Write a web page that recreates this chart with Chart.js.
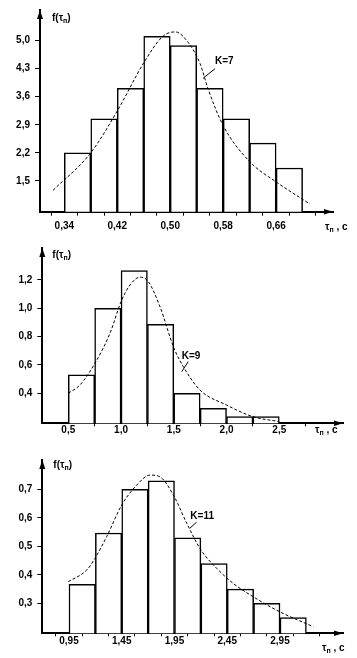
<!DOCTYPE html>
<html><head><meta charset="utf-8">
<script src="https://cdn.jsdelivr.net/npm/chart.js@4"></script>
<style>
html,body{margin:0;padding:0;background:#fff;width:357px;height:658px;overflow:hidden}
canvas{position:absolute;left:0}
</style></head><body>
<canvas id="c1" width="357" height="235" style="top:0px"></canvas>
<canvas id="c2" width="357" height="215" style="top:235px"></canvas>
<canvas id="c3" width="357" height="208" style="top:450px"></canvas>
<script>
// ---- Chart 1 (K=7)
const edges1 = [0.34,0.38,0.42,0.46,0.50,0.54,0.58,0.62,0.66,0.70];
const values1 = [2.2,3.05,3.81,5.11,4.88,3.81,3.05,2.44,1.82];
const curveX1 = [0.323,0.38,0.4216,0.4608,0.4896,0.508,0.527,0.545,0.5575,0.58,0.62,0.661,0.711];
const curveY1 = [1.26,2.2,3.29,4.47,5.12,5.22,4.96,4.43,3.78,2.88,1.98,1.46,0.92];
const xTicks1 = [0.34,0.38,0.42,0.46,0.50,0.54,0.58,0.62,0.66,0.70];
const xTickLabels1 = ['0,34','','0,42','','0,50','','0,58','','0,66',''];
const yTicks1 = [1.5,2.2,2.9,3.6,4.3,5.0];
const yTickLabels1 = ['1,5','2,2','2,9','3,6','4,3','5,0'];

// ---- Chart 2 (K=9)
const edges2 = [0.5,0.75,1.0,1.25,1.5,1.75,2.0,2.25,2.5];
const values2 = [0.53,1.0,1.266,0.887,0.4,0.294,0.235,0.235];
const curveX2 = [0.5,0.611,0.753,0.895,1.0,1.085,1.18,1.258,1.369,1.502,1.59,1.748,2.0,2.25,2.5];
const curveY2 = [0.4,0.459,0.612,0.823,1.046,1.164,1.219,1.188,1.011,0.718,0.588,0.423,0.317,0.235,0.2];
const xTicks2 = [0.5,1.0,1.5,2.0,2.5,3.0];
const xTickLabels2 = ['0,5','1,0','1,5','2,0','2,5',''];
const yTicks2 = [0.4,0.6,0.8,1.0,1.2];
const yTickLabels2 = ['0,4','0,6','0,8','1,0','1,2'];

// ---- Chart 3 (K=11)
const edges3 = [0.95,1.20,1.45,1.70,1.95,2.20,2.45,2.70,2.95,3.20];
const values3 = [0.367,0.547,0.70,0.73,0.53,0.44,0.35,0.30,0.25];
const curveX3 = [0.943,1.118,1.196,1.307,1.45,1.592,1.718,1.812,1.948,2.066,2.201,2.35,2.507,2.697,2.95,3.266];
const curveY3 = [0.376,0.417,0.458,0.534,0.645,0.715,0.75,0.744,0.674,0.581,0.487,0.423,0.37,0.323,0.27,0.218];
const xTicks3 = [0.95,1.20,1.45,1.70,1.95,2.20,2.45,2.70,2.95,3.20];
const xTickLabels3 = ['0,95','','1,45','','1,95','','2,45','','2,95',''];
const yTicks3 = [0.3,0.4,0.5,0.6,0.7];
const yTickLabels3 = ['0,3','0,4','0,5','0,6','0,7'];

const FONT = '"Liberation Sans", Arial, sans-serif';

function drawSub(ctx, parts, x, y) {
  let cx = x;
  for (const p of parts) {
    ctx.font = (p.sub ? 'bold 7px ' : 'bold 10px ') + FONT;
    ctx.fillText(p.t, cx, y + (p.sub ? 3 : 0));
    cx += ctx.measureText(p.t).width;
  }
}

const deco = {
  id: 'deco',
  afterDraw(chart, args, o) {
    const ctx = chart.ctx, a = chart.chartArea;
    const xs = chart.scales.x, ys = chart.scales.y;
    ctx.save();
    ctx.fillStyle = '#000'; ctx.strokeStyle = '#000';
    // arrows
    ctx.beginPath();
    ctx.moveTo(a.left, a.top); ctx.lineTo(a.left - 3, a.top + 9); ctx.lineTo(a.left + 3, a.top + 9); ctx.closePath(); ctx.fill();
    ctx.beginPath();
    ctx.moveTo(a.right, a.bottom); ctx.lineTo(a.right - 9, a.bottom - 2.8); ctx.lineTo(a.right - 9, a.bottom + 2.8); ctx.closePath(); ctx.fill();
    ctx.textBaseline = 'middle'; ctx.textAlign = 'left';
    // y title
    drawSub(ctx, [{t:'f(τ'},{t:'п',sub:true},{t:')'}], a.left + o.yTitleDx, a.top + o.yTitleDy);
    // x title
    drawSub(ctx, [{t:'τ'},{t:'п',sub:true},{t:' , с'}], o.xTitleX, a.bottom + o.xTitleDy);
    // K label with leader
    const k = o.k;
    ctx.lineWidth = 1; ctx.setLineDash([]);
    ctx.beginPath();
    ctx.moveTo(xs.getPixelForValue(k.lx1), ys.getPixelForValue(k.ly1));
    ctx.lineTo(xs.getPixelForValue(k.lx2), ys.getPixelForValue(k.ly2));
    ctx.stroke();
    ctx.font = 'bold 10px ' + FONT;
    ctx.fillText(k.text, xs.getPixelForValue(k.x), ys.getPixelForValue(k.y));
    ctx.restore();
  }
};

function make(id, g) {
  const centers = [];
  for (let i = 0; i < g.values.length; i++) centers.push((g.edges[i] + g.edges[i+1]) / 2);
  const barData = g.values.map((v, i) => ({x: centers[i], y: v}));
  const lineData = g.cx.map((v, i) => ({x: v, y: g.cy[i]}));
  return new Chart(document.getElementById(id), {
    type: 'bar',
    data: {
      datasets: [
        { type: 'line', data: lineData, borderColor: '#000', borderWidth: 1, borderDash: [3, 2],
          pointRadius: 0, cubicInterpolationMode: 'monotone', fill: false, order: 0 },
        { type: 'bar', data: barData, backgroundColor: '#fff', borderColor: '#000', borderWidth: 1.5,
          barPercentage: 1, categoryPercentage: 1, order: 1 }
      ]
    },
    options: {
      responsive: false, animation: false, devicePixelRatio: 1,
      layout: { padding: { top: g.padTop, right: g.padRight, left: 0, bottom: 0 } },
      plugins: { legend: { display: false }, tooltip: { enabled: false }, deco: g.deco },
      scales: {
        x: {
          type: 'linear', min: g.xmin, max: g.xmax, offset: false,
          afterFit: s => { s.height = g.xh; },
          afterBuildTicks: s => { s.ticks = g.xTicks.map(v => ({value: v})); },
          ticks: { autoSkip: false, maxRotation: 0, padding: g.xPad, color: '#000',
                   font: { family: FONT, size: 10, weight: 'bold', lineHeight: 1 },
                   callback: (v, i) => g.xLabels[i] },
          grid: { display: true, drawOnChartArea: false, drawTicks: true, tickLength: g.xTickLen, color: '#000', lineWidth: 1 },
          border: { display: true, color: '#000', width: 2 }
        },
        y: {
          type: 'linear', min: g.ymin, max: g.ymax,
          afterFit: s => { s.width = g.yw; },
          afterBuildTicks: s => { s.ticks = g.yTicks.map(v => ({value: v})); },
          ticks: { autoSkip: false, padding: 5, color: '#000',
                   font: { family: FONT, size: 10, weight: 'bold', lineHeight: 1 },
                   callback: (v, i) => g.yLabels[i] },
          grid: { display: true, drawOnChartArea: false, drawTicks: true, tickLength: 5, color: '#000', lineWidth: 1 },
          border: { display: true, color: '#000', width: 2 }
        }
      }
    },
    plugins: [deco]
  });
}

make('c1', { edges: edges1, values: values1, cx: curveX1, cy: curveY1,
  xTicks: xTicks1, xLabels: xTickLabels1, yTicks: yTicks1, yLabels: yTickLabels1,
  xmin: 0.3033, xmax: 0.7459, ymin: 0.727, ymax: 5.768,
  padTop: 5, padRight: 24, xh: 23.3, yw: 40, xPad: 6, xTickLen: 4,
  deco: { yTitleDx: 12, yTitleDy: 8, xTitleX: 325, xTitleDy: 15.3,
          k: { text: 'K=7', x: 0.5676, y: 4.48, lx1: 0.5495, ly1: 4.06, lx2: 0.5676, ly2: 4.30 } } });

make('c2', { edges: edges2, values: values2, cx: curveX2, cy: curveY2,
  xTicks: xTicks2, xLabels: xTickLabels2, yTicks: yTicks2, yLabels: yTickLabels2,
  xmin: 0.2536, xmax: 3.104, ymin: 0.188, ymax: 1.425,
  padTop: 13, padRight: 14, xh: 26.7, yw: 42.3, xPad: -1, xTickLen: 3,
  deco: { yTitleDx: 10, yTitleDy: 7, xTitleX: 315, xTitleDy: 6.7,
          k: { text: 'K=9', x: 1.575, y: 0.658, lx1: 1.575, ly1: 0.552, lx2: 1.637, ly2: 0.623 } } });

make('c3', { edges: edges3, values: values3, cx: curveX3, cy: curveY3,
  xTicks: xTicks3, xLabels: xTickLabels3, yTicks: yTicks3, yLabels: yTickLabels3,
  xmin: 0.697, xmax: 3.547, ymin: 0.195, ymax: 0.803,
  padTop: 10, padRight: 14, xh: 24.7, yw: 42.3, xPad: 0, xTickLen: 3,
  deco: { yTitleDx: 11, yTitleDy: 5, xTitleX: 322, xTitleDy: 14.7,
          k: { text: 'K=11', x: 2.10, y: 0.604, lx1: 2.097, ly1: 0.564, lx2: 2.16, ly2: 0.585 } } });
</script>
</body></html>
